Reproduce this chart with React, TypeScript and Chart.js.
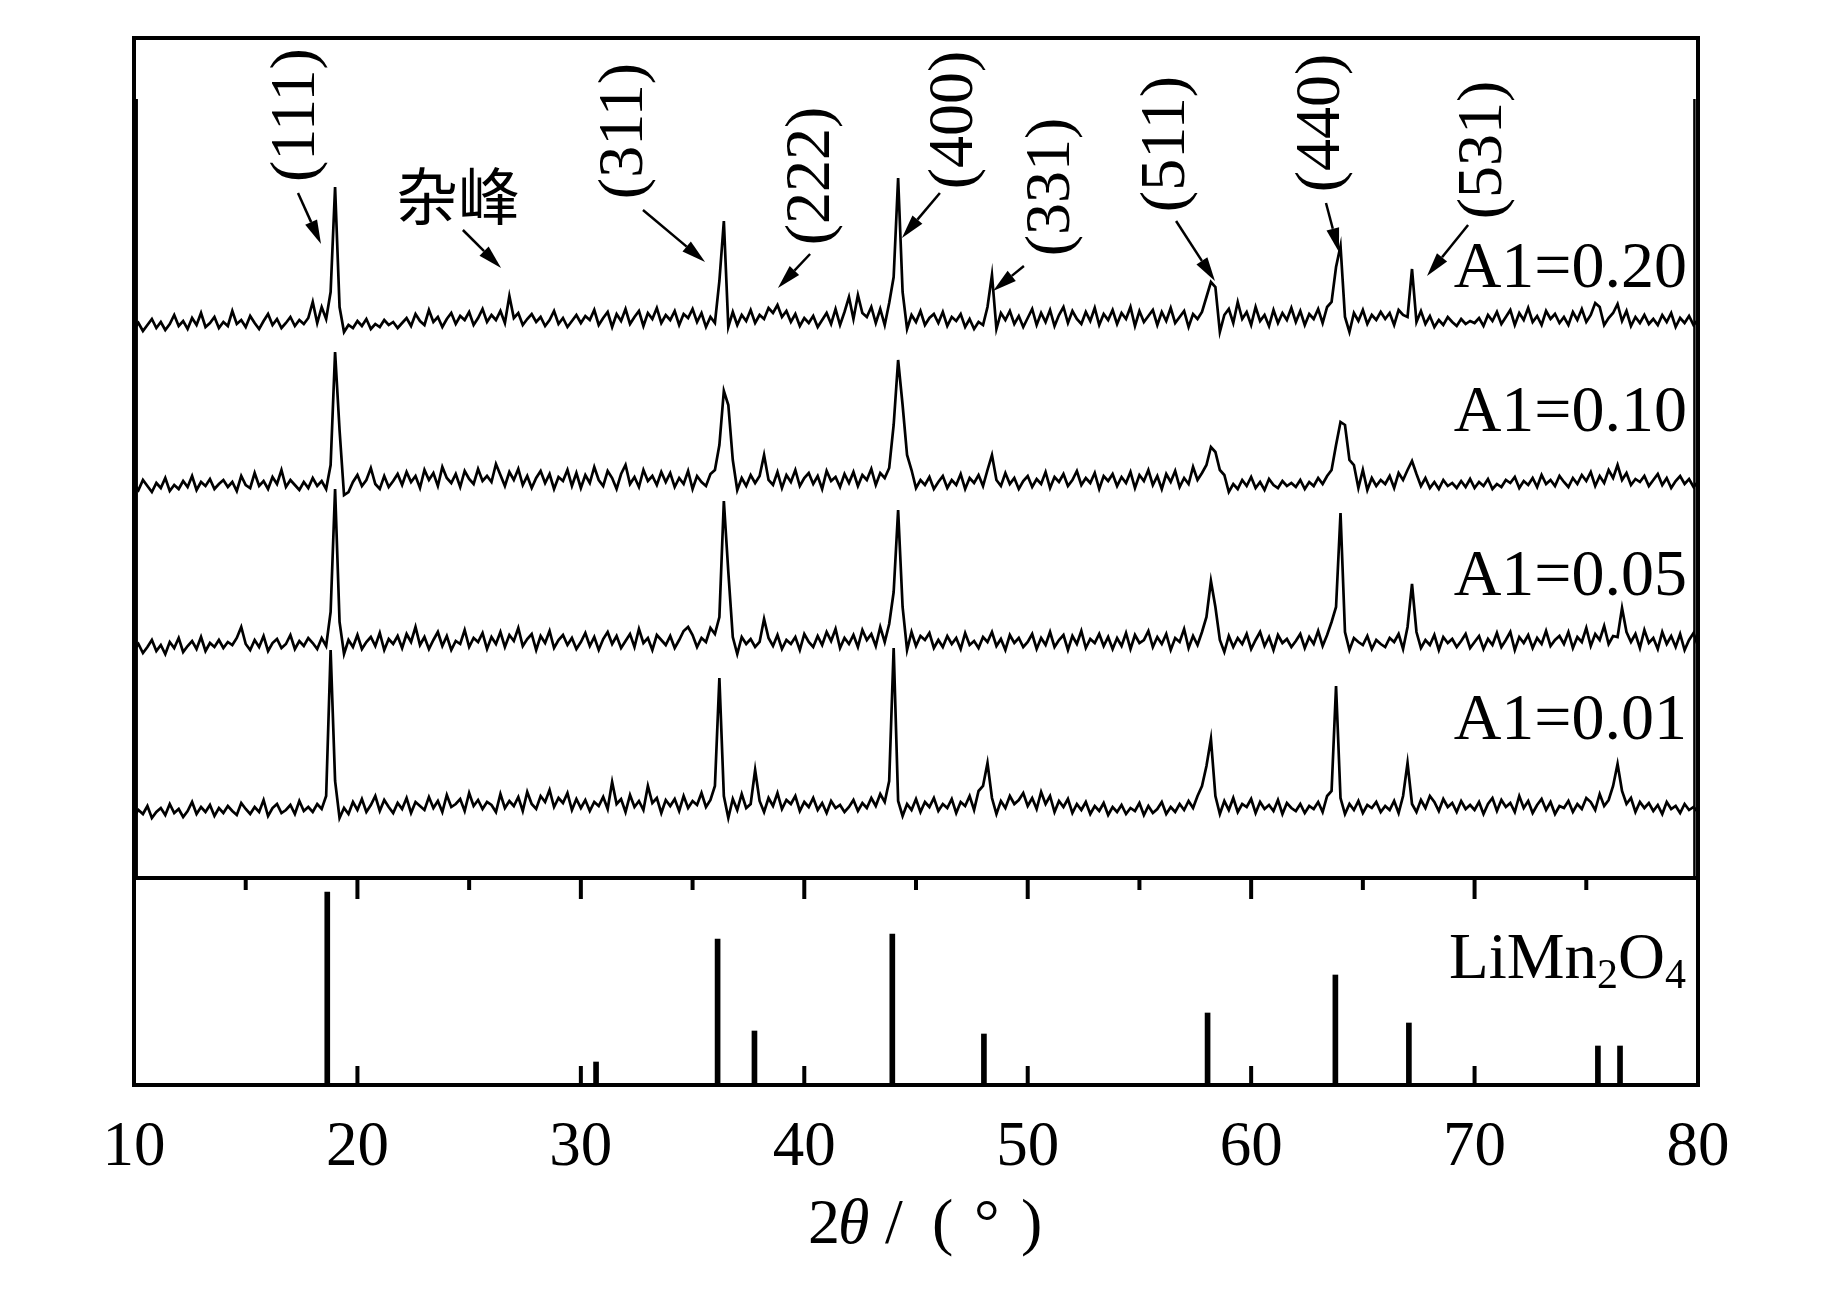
import { useEffect, useRef } from "react";
import { Chart, registerables } from "chart.js";

Chart.register(...registerables);

// scan: 10° to 80°, one reading every 0.2°
const SCAN_START = 10;
const SCAN_STEP = 0.2;

// A1 = 0.20 (counts above the lowest noise level, arbitrary units)
const a020 = [
  8, 14, 6, 12, 18, 9, 15, 7, 13, 22, 11, 16, 8, 19, 12, 24, 10, 14, 20, 9,
  15, 11, 26, 13, 17, 10, 21, 14, 8, 16, 23, 12, 18, 9, 14, 20, 11, 17, 13, 19,
  35, 14, 30, 18, 45, 150, 30, 5, 12, 9, 16, 11, 18, 8, 13, 10, 17, 12, 15, 9,
  14, 19, 11, 23, 16, 12, 27, 15, 20, 10, 18, 24, 13, 21, 17, 25, 12, 19, 28, 15,
  22, 17, 26, 14, 41, 19, 24, 12, 18, 23, 15, 20, 11, 17, 26, 13, 19, 10, 16, 22,
  14, 21, 17, 27, 12, 19, 25, 10, 23, 16, 28, 13, 20, 26, 11, 24, 18, 29, 14, 22,
  17, 26, 12, 23, 19, 28, 15, 24, 10, 20, 14, 56, 116, 10, 25, 12, 22, 16, 27, 14,
  22, 18, 29, 24, 32, 20, 26, 15, 23, 11, 19, 14, 21, 10, 17, 24, 13, 28, 12, 25,
  40, 18, 42, 24, 20, 30, 14, 28, 12, 34, 60, 159, 45, 8, 22, 15, 26, 12, 19, 23,
  14, 25, 11, 20, 16, 23, 10, 18, 8, 15, 12, 30, 62, 8, 24, 17, 26, 13, 21, 10,
  19, 28, 12, 24, 15, 27, 11, 22, 30, 14, 26, 18, 13, 25, 16, 29, 12, 23, 17, 27,
  13, 24, 18, 30, 11, 26, 15, 21, 27, 12, 25, 16, 29, 14, 20, 26, 10, 23, 18, 25,
  40, 55, 50, 5, 22, 28, 14, 35, 18, 25, 12, 30, 16, 22, 11, 27, 14, 24, 17, 29,
  15, 26, 12, 23, 18, 28, 14, 30, 35, 70, 91, 20, 5, 24, 16, 27, 13, 22, 17, 25,
  18, 24, 12, 27, 22, 20, 68, 15, 26, 13, 21, 10, 17, 12, 20, 15, 11, 18, 13, 16,
  14, 19, 11, 22, 16, 25, 13, 20, 27, 12, 24, 17, 29, 15, 21, 12, 26, 18, 23, 14,
  20, 12, 25, 17, 28, 15, 22, 34, 30, 12, 19, 24, 33, 16, 26, 11, 20, 14, 22, 13,
  18, 12, 22, 15, 24, 10, 19, 14, 21, 12, 17,
];

// A1 = 0.10
const a010 = [
  16, 10, 20, 14, 8, 17, 12, 22, 9, 15, 11, 19, 13, 24, 10, 18, 14, 21, 11, 16,
  20, 13, 18, 9, 24, 15, 12, 27, 14, 19, 11, 23, 16, 30, 13, 20, 15, 10, 18, 12,
  22, 14, 19, 11, 35, 148, 70, 5, 8, 18, 25, 14, 20, 32, 16, 11, 24, 13, 19, 26,
  15, 28, 18, 24, 12, 30, 20, 27, 14, 33, 22, 17, 26, 13, 29, 21, 16, 31, 19, 24,
  18, 36, 25, 14, 28, 20, 31, 15, 24, 12, 22, 29, 17, 26, 11, 23, 19, 30, 14, 27,
  12, 25, 17, 33, 20, 14, 29, 22, 11, 26, 35, 16, 23, 13, 30, 19, 24, 15, 28, 18,
  27, 13, 22, 16, 29, 11, 24, 18, 14, 26, 30, 55, 109, 95, 40, 10, 22, 14, 25, 17,
  24, 45, 20, 15, 28, 12, 25, 18, 30, 14, 22, 27, 16, 24, 11, 29, 19, 23, 13, 26,
  17, 28, 14, 25, 20, 31, 15, 27, 22, 32, 75, 140, 95, 45, 30, 12, 20, 15, 23, 11,
  18, 24, 12, 20, 15, 26, 11, 22, 17, 25, 14, 30, 45, 20, 14, 27, 16, 22, 11, 19,
  24, 13, 21, 16, 28, 12, 23, 18, 26, 14, 20, 29, 15, 22, 17, 27, 11, 24, 19, 26,
  14, 23, 17, 28, 12, 25, 19, 30, 15, 24, 11, 26, 18, 29, 13, 22, 16, 33, 20, 27,
  35, 53, 48, 30, 25, 8, 16, 11, 20, 14, 23, 12, 18, 10, 21, 15, 12, 19, 14, 17,
  13, 20, 11, 18, 14, 22, 16, 24, 30, 55, 78, 75, 40, 35, 12, 30, 10, 22, 14, 20,
  16, 24, 12, 27, 20, 30, 39, 26, 14, 22, 12, 18, 11, 20, 14, 17, 12, 19, 13, 21,
  12, 18, 14, 21, 11, 16, 13, 20, 17, 23, 12, 19, 15, 22, 13, 25, 16, 20, 14, 24,
  18, 13, 22, 16, 25, 19, 28, 14, 24, 17, 30, 22, 35, 20, 27, 15, 21, 18, 24, 14,
  20, 26, 15, 22, 12, 19, 24, 16, 21, 13, 18,
];

// A1 = 0.05
const a005 = [
  12, 18, 9, 15, 22, 11, 17, 8, 20, 14, 24, 10, 16, 21, 13, 25, 11, 19, 15, 22,
  14, 20, 17, 24, 35, 18, 12, 22, 15, 26, 11, 19, 23, 14, 18, 27, 13, 21, 16, 24,
  19, 13, 24, 16, 50, 173, 40, 8, 22, 15, 27, 13, 20, 25, 16, 29, 12, 23, 18, 26,
  14, 28, 20, 35, 17, 25, 13, 22, 30, 16, 26, 12, 21, 18, 32, 15, 24, 20, 29, 13,
  25, 18, 30, 15, 27, 21, 34, 16, 23, 28, 12, 26, 19, 31, 14, 22, 27, 17, 24, 13,
  20, 29, 16, 25, 12, 23, 30, 18, 26, 14, 21, 28, 15, 33, 19, 24, 12, 27, 22, 17,
  26, 14, 22, 31, 35, 27, 15, 24, 20, 34, 28, 45, 161, 90, 25, 8, 25, 18, 23, 15,
  20, 43, 24, 16, 27, 13, 22, 18, 25, 12, 28, 20, 15, 26, 17, 30, 21, 33, 14, 24,
  18, 27, 15, 32, 22, 28, 16, 35, 20, 38, 70, 152, 55, 12, 30, 16, 26, 22, 29, 14,
  22, 15, 26, 18, 24, 13, 29, 17, 21, 14, 25, 20, 30, 16, 23, 12, 27, 19, 24, 15,
  20, 28, 13, 24, 17, 30, 15, 22, 27, 12, 26, 18, 31, 14, 23, 19, 28, 16, 25, 13,
  24, 16, 29, 13, 27, 19, 22, 31, 15, 25, 18, 28, 12, 24, 20, 33, 14, 26, 17, 30,
  45, 81, 55, 22, 10, 26, 15, 24, 18, 28, 13, 22, 30, 16, 25, 12, 27, 19, 23, 15,
  21, 28, 14, 25, 18, 31, 16, 27, 40, 55, 149, 30, 12, 24, 20, 17, 26, 13, 22, 18,
  15, 24, 20, 28, 13, 35, 78, 30, 14, 22, 17, 27, 12, 25, 19, 23, 15, 21, 28, 14,
  20, 26, 13, 23, 17, 29, 15, 22, 30, 12, 25, 19, 27, 14, 24, 18, 31, 16, 22, 26,
  18, 30, 14, 25, 20, 34, 16, 28, 22, 36, 18, 26, 25, 54, 30, 20, 28, 14, 32, 19,
  24, 13, 30, 18, 26, 15, 28, 12, 22, 29, 16,
];

// A1 = 0.01
const a001 = [
  10, 16, 12, 20, 8, 14, 18, 11, 22, 13, 17, 9, 15, 24, 12, 19, 14, 21, 10, 18,
  13, 20, 15, 11, 23, 17, 12, 19, 14, 26, 10, 18, 22, 13, 16, 21, 12, 25, 15, 19,
  14, 22, 17, 30, 176, 45, 8, 18, 12, 24, 16, 27, 14, 21, 30, 15, 26, 19, 13, 23,
  17, 28, 13, 24, 20, 16, 29, 18, 25, 14, 31, 19, 22, 27, 15, 33, 20, 26, 17, 24,
  21, 14, 32, 18, 25, 20, 29, 15, 34, 22, 17, 30, 24, 36, 19, 28, 23, 33, 16, 27,
  18, 26, 15, 24, 20, 29, 17, 44, 22, 27, 14, 31, 19, 25, 16, 40, 23, 28, 13, 26,
  20, 27, 15, 30, 18, 25, 21, 33, 19, 26, 40, 148, 30, 8, 27, 16, 32, 18, 22, 56,
  25, 14, 28, 20, 33, 17, 26, 22, 30, 15, 24, 19, 28, 16, 23, 13, 25, 18, 21, 14,
  19, 26, 15, 23, 18, 28, 20, 32, 24, 45, 178, 25, 10, 22, 16, 27, 14, 24, 19, 28,
  15, 22, 18, 27, 13, 24, 20, 30, 16, 35, 40, 63, 28, 12, 25, 18, 30, 22, 26, 33,
  20, 28, 17, 34, 22, 30, 14, 25, 19, 27, 13, 22, 16, 24, 12, 20, 15, 23, 11, 19,
  14, 21, 12, 18, 15, 23, 11, 20, 13, 17, 24, 12, 19, 14, 22, 16, 25, 18, 30, 40,
  60, 87, 30, 12, 25, 16, 28, 14, 22, 19, 27, 13, 24, 17, 21, 15, 26, 12, 23, 18,
  15, 22, 13, 20, 17, 24, 14, 30, 35, 140, 28, 12, 22, 16, 25, 13, 21, 18, 24, 14,
  20, 16, 25, 13, 30, 63, 22, 14, 26, 18, 30, 24, 15, 27, 19, 23, 14, 25, 17, 21,
  16, 24, 12, 22, 28, 15, 26, 19, 23, 14, 30, 18, 25, 13, 21, 27, 16, 24, 12, 20,
  18, 25, 14, 22, 17, 28, 24, 16, 32, 20, 26, 40, 62, 35, 22, 28, 14, 24, 18, 23,
  15, 21, 12, 24, 17, 20, 13, 22, 16, 19, 14,
];

const sampleNames = ["A1=0.20", "A1=0.10", "A1=0.05", "A1=0.01"];
const sampleSeries = [a020, a010, a005, a001];
// vertical stacking of the curves (y units = px of the plot)
const sampleOffsets = [748, 585, 423, 259];
const sampleLabelY = [798, 654, 490, 346];

// LiMn2O4 standard pattern
const refAngles = [18.65, 30.68, 36.12, 37.77, 43.94, 48.04, 58.05, 63.77, 67.06, 75.52, 76.51];
const refHeights = [193, 23, 146, 54, 151, 51, 72, 110, 62, 39, 39];

// peak labels (rotated) and their arrows, in axis units
const hklText = ["(111)", "(311)", "(222)", "(400)", "(331)", "(511)", "(440)", "(531)"];
const hklX = [17.3, 31.98, 40.34, 46.75, 51.09, 56.23, 63.17, 70.42];
const hklY = [970, 954, 909, 965, 898, 941, 962, 935];
const arrowFrom = [[17.34, 892], [24.72, 855], [32.78, 875], [40.26, 831], [46.07, 892], [49.83, 819], [56.64, 864], [63.35, 882], [69.71, 860]];
const arrowTo = [[18.37, 841], [26.43, 817], [35.56, 823], [38.82, 797], [44.37, 847], [48.45, 794], [58.38, 804], [63.93, 833], [67.87, 809]];

const Y_MAX = 1047;
const SEPARATOR = 207;
const EDGE_TOP = 986;
const sepMajor = [20, 30, 40, 50, 60, 70];
const sepMinor = [15, 25, 35, 45, 55, 65, 75];
const bottomTicks = [20, 30, 40, 50, 60, 70];

const SERIF = "'Liberation Serif', 'Times New Roman', serif";

function line(ctx: CanvasRenderingContext2D, x1: number, y1: number, x2: number, y2: number) {
  ctx.beginPath();
  ctx.moveTo(x1, y1);
  ctx.lineTo(x2, y2);
  ctx.stroke();
}

function arrow(ctx: CanvasRenderingContext2D, x1: number, y1: number, x2: number, y2: number) {
  const ang = Math.atan2(y2 - y1, x2 - x1);
  const head = 24;
  const half = 6.5;
  const bx = x2 - head * Math.cos(ang);
  const by = y2 - head * Math.sin(ang);
  line(ctx, x1, y1, bx, by);
  ctx.beginPath();
  ctx.moveTo(x2, y2);
  ctx.lineTo(bx + half * Math.sin(ang), by - half * Math.cos(ang));
  ctx.lineTo(bx - half * Math.sin(ang), by + half * Math.cos(ang));
  ctx.closePath();
  ctx.fill();
}

const decorPlugin = {
  id: "decor",
  afterDatasetsDraw(chart: any) {
    const { ctx, chartArea: a } = chart;
    const x = chart.scales.x;
    const y = chart.scales.y;
    const sy = y.getPixelForValue(SEPARATOR);
    ctx.save();
    ctx.strokeStyle = "#000";
    ctx.fillStyle = "#000";
    ctx.lineCap = "butt";

    // thin vertical lines just inside the frame
    ctx.lineWidth = 2.5;
    line(ctx, x.getPixelForValue(10.12), y.getPixelForValue(EDGE_TOP), x.getPixelForValue(10.12), sy);
    line(ctx, x.getPixelForValue(79.84), y.getPixelForValue(EDGE_TOP), x.getPixelForValue(79.84), sy);

    // frame and panel separator
    ctx.lineWidth = 4;
    ctx.strokeRect(a.left, a.top, a.right - a.left, a.bottom - a.top);
    line(ctx, a.left, sy, a.right, sy);

    // inward ticks
    for (const v of sepMajor) {
      const px = x.getPixelForValue(v);
      line(ctx, px, sy, px, sy + 21);
    }
    for (const v of sepMinor) {
      const px = x.getPixelForValue(v);
      line(ctx, px, sy, px, sy + 12);
    }
    for (const v of bottomTicks) {
      const px = x.getPixelForValue(v);
      line(ctx, px, a.bottom, px, a.bottom - 19);
    }

    // arrows
    ctx.lineWidth = 2.5;
    arrowFrom.forEach((p, i) => {
      const q = arrowTo[i];
      arrow(ctx, x.getPixelForValue(p[0]), y.getPixelForValue(p[1]), x.getPixelForValue(q[0]), y.getPixelForValue(q[1]));
    });

    // rotated (hkl) labels
    ctx.font = `64px ${SERIF}`;
    ctx.textAlign = "center";
    ctx.textBaseline = "middle";
    hklText.forEach((t, i) => {
      ctx.save();
      ctx.translate(x.getPixelForValue(hklX[i]), y.getPixelForValue(hklY[i]));
      ctx.rotate(-Math.PI / 2);
      ctx.fillText(t, 0, 0);
      ctx.restore();
    });

    // impurity peak note
    ctx.font = "62px 'Noto Sans CJK SC', sans-serif";
    ctx.fillText("杂峰", x.getPixelForValue(24.5), y.getPixelForValue(889));

    // sample labels
    ctx.font = `66px ${SERIF}`;
    ctx.textAlign = "right";
    ctx.textBaseline = "alphabetic";
    sampleNames.forEach((n, i) => {
      ctx.fillText(n, x.getPixelForValue(79.51), y.getPixelForValue(sampleLabelY[i]));
    });

    // LiMn2O4 with subscripts
    const big = `65px ${SERIF}`;
    const small = `42px ${SERIF}`;
    const parts: [string, string, number][] = [
      ["LiMn", big, 0],
      ["2", small, 10],
      ["O", big, 0],
      ["4", small, 10],
    ];
    let total = 0;
    for (const [t, f] of parts) {
      ctx.font = f;
      total += ctx.measureText(t).width;
    }
    let cx = x.getPixelForValue(79.46) - total;
    const by = y.getPixelForValue(107);
    ctx.textAlign = "left";
    for (const [t, f, dy] of parts) {
      ctx.font = f;
      ctx.fillText(t, cx, by + dy);
      cx += ctx.measureText(t).width;
    }

    // axis title: 2θ / ( ° )
    const mid = (a.left + a.right) / 2;
    const ty = a.bottom + 158;
    const title: [string, boolean, number][] = [
      ["2", false, -108],
      ["θ", true, -78],
      ["/", false, -31],
      ["(", false, 16],
      ["°", false, 58],
      [")", false, 105],
    ];
    for (const [t, it, dx] of title) {
      ctx.font = `${it ? "italic " : ""}64px ${SERIF}`;
      ctx.fillText(t, mid + dx, ty);
    }
    ctx.restore();
  },
};

export default function App() {
  const canvasRef = useRef<HTMLCanvasElement>(null);

  useEffect(() => {
    if (!canvasRef.current) return;
    const traceSets = sampleSeries.map((series, k) => ({
      type: "line" as const,
      label: sampleNames[k],
      data: series.map((v, i) => ({ x: +(SCAN_START + i * SCAN_STEP).toFixed(2), y: v + sampleOffsets[k] })),
      borderColor: "#000",
      borderWidth: 2.7,
      borderJoinStyle: "miter" as const,
      pointRadius: 0,
      tension: 0,
      fill: false,
    }));
    const refSet = {
      type: "bar" as const,
      label: "LiMn2O4",
      data: refAngles.map((v, i) => ({ x: v, y: refHeights[i] })),
      backgroundColor: "#000",
      borderWidth: 0,
      barThickness: 5,
    };

    const chart = new Chart(canvasRef.current, {
      type: "line",
      data: { datasets: [...traceSets, refSet] as any },
      options: {
        animation: false,
        responsive: true,
        maintainAspectRatio: false,
        events: [],
        layout: { padding: { left: 134, top: 38, right: 145, bottom: 0 } },
        plugins: { legend: { display: false }, tooltip: { enabled: false } },
        scales: {
          x: {
            type: "linear",
            min: 10,
            max: 80,
            offset: false,
            grid: { display: false, drawTicks: false },
            border: { display: false },
            ticks: {
              stepSize: 10,
              autoSkip: false,
              maxRotation: 0,
              padding: 26,
              color: "#000",
              font: { family: SERIF, size: 63 },
            },
            afterFit: (s: any) => {
              s.height = 214;
            },
          },
          y: { type: "linear", display: false, min: 0, max: Y_MAX },
        },
      },
      plugins: [decorPlugin],
    });

    return () => chart.destroy();
  }, []);

  return (
    <div style={{ position: "absolute", left: 0, top: 0, width: 1843, height: 1299, background: "#fff" }}>
      <canvas ref={canvasRef} />
    </div>
  );
}
